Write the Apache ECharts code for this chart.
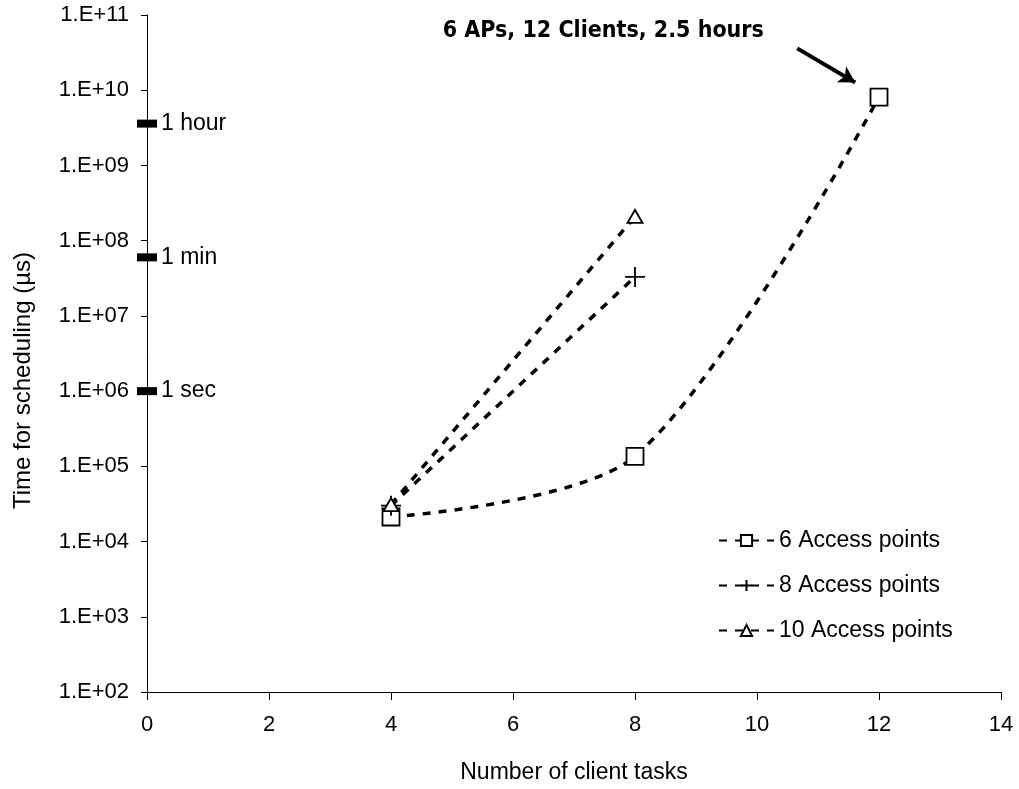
<!DOCTYPE html>
<html>
<head>
<meta charset="utf-8">
<title>Time for scheduling vs. number of client tasks</title>
<script src="https://cdn.jsdelivr.net/npm/echarts@6/dist/echarts.min.js"></script>
<style>
  html, body { margin: 0; padding: 0; background: #fff; }
  #chart { width: 1019px; height: 789px; }
</style>
</head>
<body>
<div id="chart"></div>
<script>
// Number of client tasks
const clientTasks6 = [4, 8, 12];
const clientTasks8 = [4, 8];
const clientTasks10 = [4, 8];

// Scheduling time in microseconds
const time6AP = [2.12e4, 1.36e5, 8.1e9];
const time8AP = [3.0e4, 3.3e7];
const time10AP = [3.1e4, 2.1e8];

const seriesNames = ['6 Access points', '8 Access points', '10 Access points'];

// Reference durations marked on the y axis (µs)
const refLabels = ['1 hour', '1 min', '1 sec'];
const refValues = [3.6e9, 6e7, 1e6];

// Callout for the largest case
const calloutText = '6 APs, 12 Clients, 2.5 hours';
const calloutTextPos = [7.48, 6.2e10];
const calloutArrowFrom = [10.66, 3.6e10];
const calloutArrowTo = [11.61, 1.27e10];

// Axis settings
const xTicks = [0, 2, 4, 6, 8, 10, 12, 14];
const yTickLabels = ['1.E+02', '1.E+03', '1.E+04', '1.E+05', '1.E+06', '1.E+07', '1.E+08', '1.E+09', '1.E+10', '1.E+11'];

const FONT = '"Liberation Sans", Arial, sans-serif';
const CALLOUT_FONT = '"Liberation Sans Narrow", "DejaVu Sans Condensed", "Liberation Sans", sans-serif';
const chart = echarts.init(document.getElementById('chart'));

const dashed = { color: '#000', width: 3.5, type: [8, 8], cap: 'butt' };
const pair = (xs, ys) => xs.map((x, i) => [x, ys[i]]);
const plusPath = 'path://M0,10L20,10M10,0L10,20';

chart.setOption({
  animation: false,
  backgroundColor: '#fff',
  textStyle: { fontFamily: FONT, color: '#000' },
  grid: { left: 147, top: 15, right: 18, bottom: 97, containLabel: false },
  xAxis: {
    type: 'value',
    min: xTicks[0],
    max: xTicks[xTicks.length - 1],
    interval: 2,
    name: 'Number of client tasks',
    nameLocation: 'middle',
    nameGap: 69,
    nameTextStyle: { fontSize: 23, color: '#000', fontFamily: FONT },
    axisLine: { lineStyle: { color: '#000', width: 1 } },
    axisTick: { length: 8, lineStyle: { color: '#000' } },
    axisLabel: { fontSize: 22, color: '#000', margin: 22, fontFamily: FONT },
    splitLine: { show: false }
  },
  yAxis: {
    type: 'log',
    logBase: 10,
    min: 1e2,
    max: 1e11,
    name: 'Time for scheduling (µs)',
    nameLocation: 'middle',
    nameGap: 112,
    nameTextStyle: { fontSize: 24, color: '#000', fontFamily: FONT, padding: [0, 54, 0, 0] },
    axisLine: { show: true, lineStyle: { color: '#000', width: 1 } },
    axisTick: { show: true, length: 6, lineStyle: { color: '#000' } },
    axisLabel: {
      fontSize: 22, color: '#000', margin: 18, fontFamily: FONT,
      formatter: v => yTickLabels[Math.round(Math.log10(v)) - 2]
    },
    splitLine: { show: false }
  },
  legend: {
    data: seriesNames,
    orient: 'vertical',
    left: 713,
    top: 524,
    itemWidth: 55,
    itemHeight: 14,
    itemGap: 22,
    textStyle: { fontSize: 23, color: '#000', fontFamily: FONT },
    inactiveColor: '#000'
  },
  series: [
    {
      name: seriesNames[0],
      type: 'line',
      data: pair(clientTasks6, time6AP),
      smooth: 0.3,
      symbol: 'rect',
      symbolSize: 17,
      itemStyle: { color: '#fff', borderColor: '#000', borderWidth: 1.8 },
      lineStyle: dashed,
      z: 3
    },
    {
      name: seriesNames[1],
      type: 'line',
      data: pair(clientTasks8, time8AP),
      symbol: plusPath,
      symbolSize: 20,
      itemStyle: { color: '#000', borderColor: '#000', borderWidth: 1.8 },
      lineStyle: dashed,
      z: 3
    },
    {
      name: seriesNames[2],
      type: 'line',
      data: pair(clientTasks10, time10AP),
      symbol: 'triangle',
      symbolSize: [15, 13],
      itemStyle: { color: '#fff', borderColor: '#000', borderWidth: 1.8 },
      lineStyle: dashed,
      z: 3
    },
    {
      // thick bars on the y axis with duration labels
      name: 'durations',
      type: 'scatter',
      clip: false,
      data: pair(refValues.map(() => 0), refValues).map((d, i) => ({ value: d, name: refLabels[i] })),
      symbol: 'rect',
      symbolSize: [20, 8],
      itemStyle: { color: '#000', opacity: 1 },
      label: {
        show: true,
        position: 'right',
        distance: 4,
        formatter: p => p.name,
        fontSize: 23,
        color: '#000',
        fontFamily: FONT
      },
      z: 4
    },
    {
      // callout text and arrow
      name: 'callout',
      type: 'scatter',
      clip: false,
      data: [{ value: calloutTextPos }],
      symbol: 'circle',
      symbolSize: 1,
      itemStyle: { color: 'rgba(0,0,0,0)', opacity: 1 },
      label: {
        show: true,
        position: 'inside',
        formatter: calloutText,
        fontSize: 23,
        fontWeight: 'bold',
        color: '#000',
        fontFamily: CALLOUT_FONT
      },
      markLine: {
        silent: true,
        symbol: ['none', 'arrow'],
        symbolSize: [14, 16],
        label: { show: false },
        lineStyle: { color: '#000', width: 4, type: 'solid' },
        data: [[{ coord: calloutArrowFrom }, { coord: calloutArrowTo }]]
      }
    }
  ]
});
</script>
</body>
</html>
